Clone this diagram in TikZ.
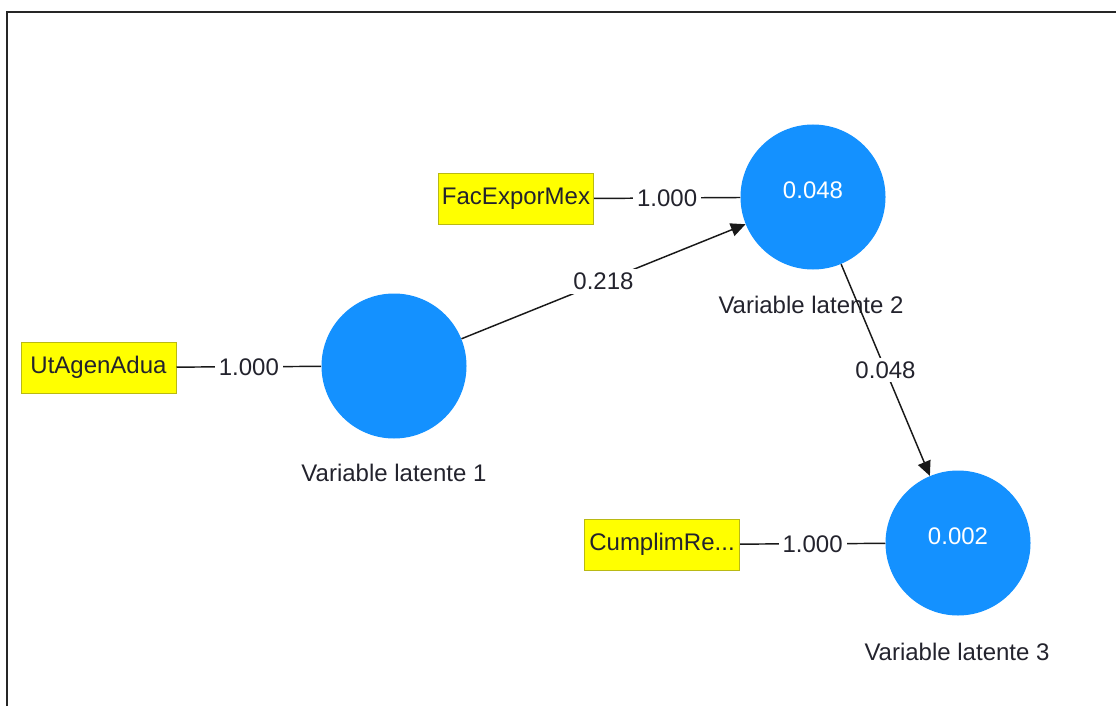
\documentclass[tikz,border=0pt]{standalone}
\usepackage{fontspec}
\setmainfont{Liberation Sans}
\usetikzlibrary{arrows.meta}
\definecolor{lvblue}{RGB}{20,145,255}
\definecolor{indyellow}{RGB}{255,255,0}
\definecolor{indborder}{RGB}{185,185,20}
\definecolor{txt}{RGB}{35,35,45}
\begin{document}
\begin{tikzpicture}[x=0.75pt,y=-0.75pt,
  latent/.style={circle, fill=lvblue, minimum size=108.75pt, inner sep=0pt},
  indicator/.style={rectangle, fill=indyellow, draw=indborder, line width=0.75pt,
    minimum width=116.25pt, minimum height=38.25pt, inner sep=0pt,
    font=\fontsize{18}{21}\selectfont, text=txt},
  weight/.style={fill=white, inner xsep=3pt, inner ysep=3pt,
    font=\fontsize{18}{21}\selectfont, text=txt},
  lvname/.style={inner sep=0pt, font=\fontsize{18}{21}\selectfont, text=txt},
  valtext/.style={inner sep=0pt, font=\fontsize{18}{21}\selectfont, text=white},
  link/.style={draw=black!90, line width=1.1pt},
  structarrow/.style={link, -{Triangle[length=11pt,width=10pt]}},
  frameline/.style={draw=black!85, line width=1.5pt}
]
\useasboundingbox (0,0) rectangle (1116,706);

% frame
\coordinate (fbl) at (7,706);
\coordinate (ftl) at (7,12);
\coordinate (ftr) at (1116,12);
\draw[frameline] (fbl) -- (ftl) -- (ftr);

% latent variables
\node[latent] (lv1) at (394,366) {};
\node[latent] (lv2) at (813,197) {};
\node[latent] (lv3) at (958,543) {};

\node[valtext] (v2) at ([yshift=5.25pt]lv2.center) {0.048};
\node[valtext] (v3) at ([yshift=5.25pt]lv3.center) {0.002};

\node[lvname] (n1) at (394,473) {Variable latente 1};
\node[lvname] (n2) at (811,305) {Variable latente 2};
\node[lvname] (n3) at (957,652) {Variable latente 3};

% indicators
\node[indicator] (i1) at (98.5,367.5) {UtAgenAdua};
\node[indicator] (i2) at (516,199) {FacExporMex};
\node[indicator] (i3) at (662,544.5) {CumplimRe...};

% measurement links
\draw[link] (i1) -- node[weight] {1.000} (lv1);
\draw[link] (i2) -- node[weight] {1.000} (lv2);
\draw[link] (i3) -- node[weight] {1.000} (lv3);

% structural paths
\draw[structarrow] (lv1) -- node[weight] {0.218} (lv2);
\draw[structarrow] (lv2) -- node[weight] {0.048} (lv3);
\end{tikzpicture}
\end{document}
